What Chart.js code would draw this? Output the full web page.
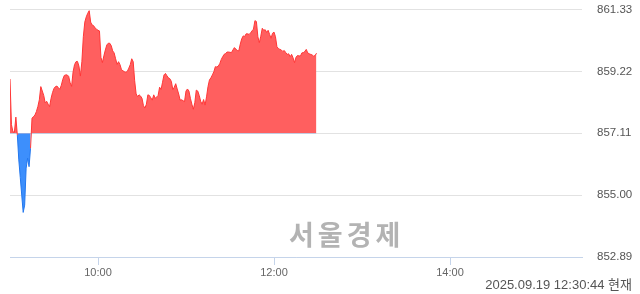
<!DOCTYPE html>
<html lang="ko">
  <head>
    <meta charset="UTF-8" />
    <title>코스피 장중 차트</title>
    <script src="https://cdn.jsdelivr.net/npm/chart.js"></script>
    <style>
      html, body { margin: 0; padding: 0; background: #fff; }
      .wrap { position: relative; width: 640px; height: 294px; }
      canvas { display: block; }
      .watermark {
        position: absolute; left: 289px; top: 221px;
        font: bold 27px/26px "Noto Sans CJK KR", sans-serif;
        letter-spacing: 4px;
        color: #b3b3b3; white-space: nowrap;
      }
      .stamp {
        position: absolute; right: 8px; top: 277px;
        font: 13px/15px "Liberation Sans", "Noto Sans CJK KR", sans-serif;
        color: #555; white-space: nowrap;
      }
    </style>
  </head>
  <body>
    <div class="wrap">
      <canvas id="chart" width="640" height="294"></canvas>
      <div class="watermark">서울경제</div>
      <div class="stamp">2025.09.19 12:30:44 현재</div>
    </div>

    <script>
      // 전일 종가 (기준선)
      const baseLine = 857.11;

      // y축 눈금
      const yTicks = [852.89, 855.0, 857.11, 859.22, 861.33];

      // x축 눈금 (9:00 기준 분)
      const xTickMinutes = [60, 180, 300];
      const xTickLabels = ["10:00", "12:00", "14:00"];

      // 분 단위 지수 (9:00 부터)
      const values = [
        858.96, 857.40, 857.16, 857.14, 857.66, 857.05, 856.20, 855.60, 855.00, 854.41,
        854.66, 855.92, 856.26, 855.97, 856.60, 857.62, 857.68, 857.73, 857.85, 858.02,
        858.25, 858.70, 858.55, 858.40, 858.15, 858.20, 858.10, 858.02, 858.30, 858.50,
        858.64, 858.70, 858.72, 858.66, 858.61, 858.75, 858.95, 859.08, 859.10, 859.10,
        859.05, 858.83, 858.71, 859.20, 859.45, 859.55, 859.56, 859.40, 859.06, 859.55,
        860.40, 860.90, 861.08, 861.20, 861.29, 860.90, 860.80, 860.78, 860.70, 860.66,
        860.62, 860.60, 859.70, 859.52, 859.75, 859.95, 860.12, 860.18, 860.18, 860.10,
        859.92, 859.85, 859.65, 859.46, 859.55, 859.45, 859.28, 859.24, 859.21, 859.19,
        859.22, 859.33, 859.45, 859.65, 859.55, 858.90, 858.45, 858.36, 858.42, 858.38,
        858.30, 858.05, 857.97, 858.10, 858.42, 858.40, 858.32, 858.24, 858.42, 858.30,
        858.35, 858.40, 858.68, 858.60, 858.85, 859.10, 859.15, 859.07, 859.00, 858.97,
        858.88, 858.60, 858.68, 858.80, 858.62, 858.45, 858.24, 858.25, 858.22, 858.19,
        858.55, 858.62, 858.55, 858.30, 858.10, 857.93, 858.15, 858.58, 858.55, 858.40,
        858.20, 858.10, 858.26, 858.07, 858.35, 858.70, 858.93, 859.00, 859.10, 859.21,
        859.38, 859.37, 859.40, 859.48, 859.62, 859.72, 859.80, 859.83, 859.88, 859.88,
        859.87, 859.86, 859.95, 860.03, 859.98, 859.93, 859.92, 860.15, 860.33, 860.43,
        860.41, 860.50, 860.50, 860.48, 860.53, 860.60, 860.66, 860.95, 860.92, 860.40,
        860.20, 860.42, 860.69, 860.62, 860.64, 860.55, 860.62, 860.48, 860.35, 860.52,
        860.56, 860.40, 860.06, 860.00, 859.97, 859.95, 859.90, 859.93, 859.86, 859.80,
        859.82, 859.72, 859.80, 859.68, 859.52, 859.70, 859.76, 859.75, 859.74, 859.85,
        859.86, 859.90, 859.97, 859.85, 859.82, 859.80, 859.78, 859.74, 859.76, 859.84,
      ];

      const upLine = "rgb(255, 55, 55)";
      const upFill = "rgba(255, 95, 95, 1)";
      const downLine = "rgb(34, 119, 238)";
      const downFill = "rgba(61, 143, 252, 1)";

      const fontFamily = '"Liberation Sans", Arial, sans-serif';

      new Chart(document.getElementById("chart").getContext("2d"), {
        type: "line",
        data: {
          datasets: [
            {
              data: values.map((v, i) => ({ x: i, y: v })),
              borderWidth: 1,
              borderColor: upLine,
              pointRadius: 0,
              tension: 0,
              fill: { target: { value: baseLine }, above: upFill, below: downFill },
              segment: {
                // 구간 평균이 기준선 아래면 파란색
                borderColor: (ctx) =>
                  (ctx.p0.parsed.y + ctx.p1.parsed.y) / 2 < baseLine
                    ? downLine
                    : upLine,
              },
            },
          ],
        },
        options: {
          responsive: false,
          animation: false,
          layout: {
            autoPadding: false,
            padding: { left: 10, right: 0, top: 9.5, bottom: 0 },
          },
          plugins: { legend: { display: false }, tooltip: { enabled: false } },
          scales: {
            x: {
              type: "linear",
              min: 0,
              max: 390,
              afterBuildTicks: (axis) => {
                axis.ticks = xTickMinutes.map((v) => ({ value: v }));
              },
              afterFit: (axis) => {
                axis.height = 37;
                axis.paddingLeft = 0;
                axis.paddingRight = 0;
              },
              ticks: {
                autoSkip: false,
                maxRotation: 0,
                padding: 1,
                color: "#666",
                font: { family: fontFamily, size: 11 },
                callback: (v) => xTickLabels[xTickMinutes.indexOf(v)],
              },
              grid: {
                drawOnChartArea: false,
                drawTicks: true,
                tickLength: 8,
                color: "#c5d4ea",
              },
              border: { color: "#c5d4ea" },
            },
            y: {
              position: "right",
              min: yTicks[0],
              max: yTicks[yTicks.length - 1],
              afterBuildTicks: (axis) => {
                axis.ticks = yTicks.map((v) => ({ value: v }));
              },
              afterFit: (axis) => {
                axis.width = 58;
                axis.paddingTop = 0;
                axis.paddingBottom = 0;
              },
              ticks: {
                padding: 15,
                color: "#555",
                font: { family: fontFamily, size: 11.5 },
                callback: (v) => v.toFixed(2),
              },
              grid: { drawTicks: false, color: "#e2e2e2" },
              border: { display: false },
            },
          },
        },
      });
    </script>
  </body>
</html>
